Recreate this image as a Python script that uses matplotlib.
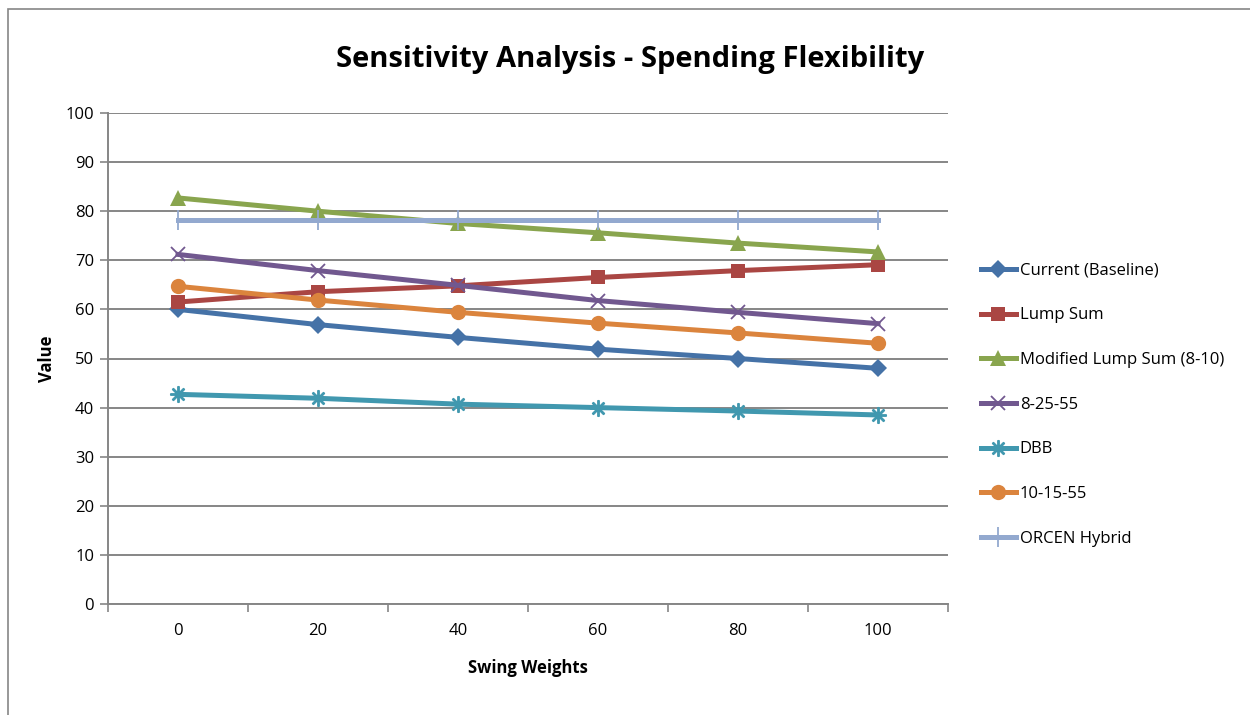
import matplotlib
matplotlib.use("Agg")
import matplotlib.pyplot as plt
from matplotlib.patches import Rectangle

plt.rcParams['font.family'] = ['Open Sans', 'DejaVu Sans']

swing_weights = [0, 20, 40, 60, 80, 100]

current_baseline = [60.0, 56.9, 54.3, 51.9, 50.0, 48.0]
lump_sum = [61.5, 63.6, 64.8, 66.5, 67.9, 69.1]
modified_lump_sum = [82.7, 80.0, 77.5, 75.6, 73.5, 71.7]
plan_8_25_55 = [71.2, 67.9, 64.9, 61.8, 59.4, 57.1]
dbb = [42.7, 41.9, 40.7, 40.0, 39.3, 38.5]
plan_10_15_55 = [64.7, 61.9, 59.4, 57.2, 55.2, 53.1]
orcen_hybrid = [78.3, 78.3, 78.3, 78.3, 78.3, 78.3]

series = [
    ("Current (Baseline)", current_baseline, "#4572A7", "D", 9),
    ("Lump Sum", lump_sum, "#AA4643", "s", 10),
    ("Modified Lump Sum (8-10)", modified_lump_sum, "#89A54E", "^", 11),
    ("8-25-55", plan_8_25_55, "#71588F", "x", 10),
    ("DBB", dbb, "#4198AF", "$\u2733$", 11),
    ("10-15-55", plan_10_15_55, "#DB843D", "o", 11),
    ("ORCEN Hybrid", orcen_hybrid, "#93A9CF", "|", 14),
]

fig = plt.figure(figsize=(12.5, 7.15), dpi=100)
W, H = 1250, 715
ax = fig.add_axes([108 / W, 1 - 604 / H, 840 / W, 491 / H])

# outer chart frame
fig.patches.append(Rectangle((8 / W, -0.02), 1.05, 1 - 9 / H + 0.02,
                             transform=fig.transFigure, fill=False,
                             edgecolor="#868686", linewidth=1.2))

handles = []
for name, vals, color, marker, ms in series:
    if marker in ("x", "|", "$\u2733$"):
        kw = dict(markeredgewidth=1.3, markerfacecolor=color, markeredgecolor=color)
    else:
        kw = dict(markeredgewidth=0, markerfacecolor=color)
    h, = ax.plot(swing_weights, vals, color=color, linewidth=3.6,
                 marker=marker, markersize=ms, label=name, zorder=3, **kw)
    handles.append(h)

ax.set_xlim(-10, 110)
ax.set_ylim(0, 100)
ax.set_yticks(range(0, 101, 10))
ax.set_xticks(swing_weights)
ax.set_xticks(range(-10, 111, 20), minor=True)
ax.tick_params(axis="x", which="major", length=0, pad=14, labelsize=12)
ax.tick_params(axis="x", which="minor", length=6, color="#868686", width=1.2, direction="out")
ax.tick_params(axis="y", length=6, color="#868686", width=1.2, labelsize=12, pad=4)
ax.yaxis.grid(True, color="#868686", linewidth=1.4)
ax.set_axisbelow(True)

for side in ("top", "right"):
    ax.spines[side].set_visible(False)
for side in ("left", "bottom"):
    ax.spines[side].set_color("#868686")
    ax.spines[side].set_linewidth(1.4)

ax.set_ylabel("Value", fontsize=12, fontweight="bold", labelpad=7)
ax.set_xlabel("Swing Weights", fontsize=12, fontweight="bold", labelpad=14)

fig.text(630 / W, 1 - 60 / H, "Sensitivity Analysis - Spending Flexibility",
         ha="center", va="center", fontsize=21, fontweight="bold")

fig.legend(handles=handles, loc="upper left", bbox_to_anchor=(974 / W, 1 - 256 / H),
           frameon=False, fontsize=12, handlelength=2.1, handletextpad=0.25,
           labelspacing=1.72, borderaxespad=0)

fig.savefig("out.png", dpi=100)
